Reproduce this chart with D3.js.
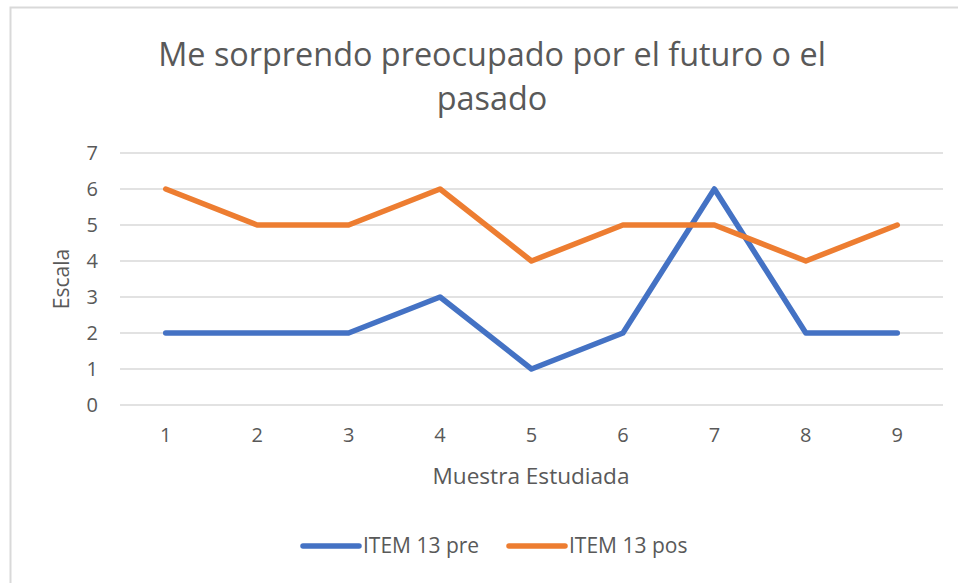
<!DOCTYPE html>
<html>
<head>
<meta charset="utf-8">
<script src="https://cdn.jsdelivr.net/npm/d3@7"></script>
<style>
body { margin: 0; background: #fff; }
text { font-family: "Open Sans", "Noto Sans", sans-serif; fill: #595959; }
</style>
</head>
<body>
<script>
// data
var categories = ["1", "2", "3", "4", "5", "6", "7", "8", "9"];
var itemPre = [2, 2, 2, 3, 1, 2, 6, 2, 2];
var itemPos = [6, 5, 5, 6, 4, 5, 5, 4, 5];
var seriesNames = ["ITEM 13 pre", "ITEM 13 pos"];
var yTicks = [0, 1, 2, 3, 4, 5, 6, 7];

var w = 958, h = 583;
var colors = ["#4472C4", "#ED7D31"];

var svg = d3.select("body").append("svg")
    .attr("width", w)
    .attr("height", h);

// chart frame
svg.append("rect")
    .attr("x", 10.5).attr("y", 7.5)
    .attr("width", w).attr("height", h)
    .attr("fill", "none")
    .attr("stroke", "#d9d9d9")
    .attr("stroke-width", 2);

var x = d3.scaleBand().domain(categories).range([120, 943]);
var y = d3.scaleLinear().domain([0, 7]).range([405, 153]);

// gridlines
svg.append("g").selectAll("line")
    .data(yTicks)
    .enter().append("line")
    .attr("x1", 120).attr("x2", 943)
    .attr("y1", function(d){ return y(d); })
    .attr("y2", function(d){ return y(d); })
    .attr("stroke", "#d9d9d9")
    .attr("stroke-width", 1.5);

// y axis labels
var yAxis = d3.axisLeft(y).tickValues(yTicks).tickFormat(d3.format("d")).tickSize(0).tickPadding(0);
var gy = svg.append("g").attr("transform", "translate(98,0)").call(yAxis);
gy.select(".domain").remove();
gy.selectAll("text").style("font-size", "20px").attr("fill", "#595959");

// x axis labels
var xAxis = d3.axisBottom(x).tickSize(0).tickPadding(0);
var gx = svg.append("g").attr("transform", "translate(0,428)").call(xAxis);
gx.select(".domain").remove();
gx.selectAll("text").style("font-size", "20px").attr("fill", "#595959");

// lines
var line = d3.line()
    .x(function(d, i){ return x(categories[i]) + x.bandwidth() / 2; })
    .y(function(d){ return y(d); });

[itemPre, itemPos].forEach(function(s, i) {
    svg.append("path")
        .datum(s)
        .attr("fill", "none")
        .attr("stroke", colors[i])
        .attr("stroke-width", 5.5)
        .attr("stroke-linejoin", "round")
        .attr("stroke-linecap", "round")
        .attr("d", line);
});

// title
svg.append("text")
    .attr("x", 492).attr("y", 66)
    .attr("text-anchor", "middle")
    .style("font-size", "32.4px")
    .text("Me sorprendo preocupado por el futuro o el");
svg.append("text")
    .attr("x", 492).attr("y", 110)
    .attr("text-anchor", "middle")
    .style("font-size", "32.4px")
    .text("pasado");

// axis titles
svg.append("text")
    .attr("x", 531).attr("y", 484)
    .attr("text-anchor", "middle")
    .style("font-size", "22.6px")
    .text("Muestra Estudiada");
svg.append("text")
    .attr("transform", "translate(69,279) rotate(-90)")
    .attr("text-anchor", "middle")
    .style("font-size", "21px")
    .text("Escala");

// legend
var legendX = [303, 509];
var lg = svg.append("g").selectAll("g")
    .data(seriesNames)
    .enter().append("g")
    .attr("transform", function(d, i){ return "translate(" + legendX[i] + ",546)"; });
lg.append("line")
    .attr("x1", 0).attr("x2", 56)
    .attr("stroke", function(d, i){ return colors[i]; })
    .attr("stroke-width", 5.5)
    .attr("stroke-linecap", "round");
lg.append("text")
    .attr("x", 60).attr("y", 7)
    .style("font-size", "21px")
    .text(function(d){ return d; });
</script>
</body>
</html>
